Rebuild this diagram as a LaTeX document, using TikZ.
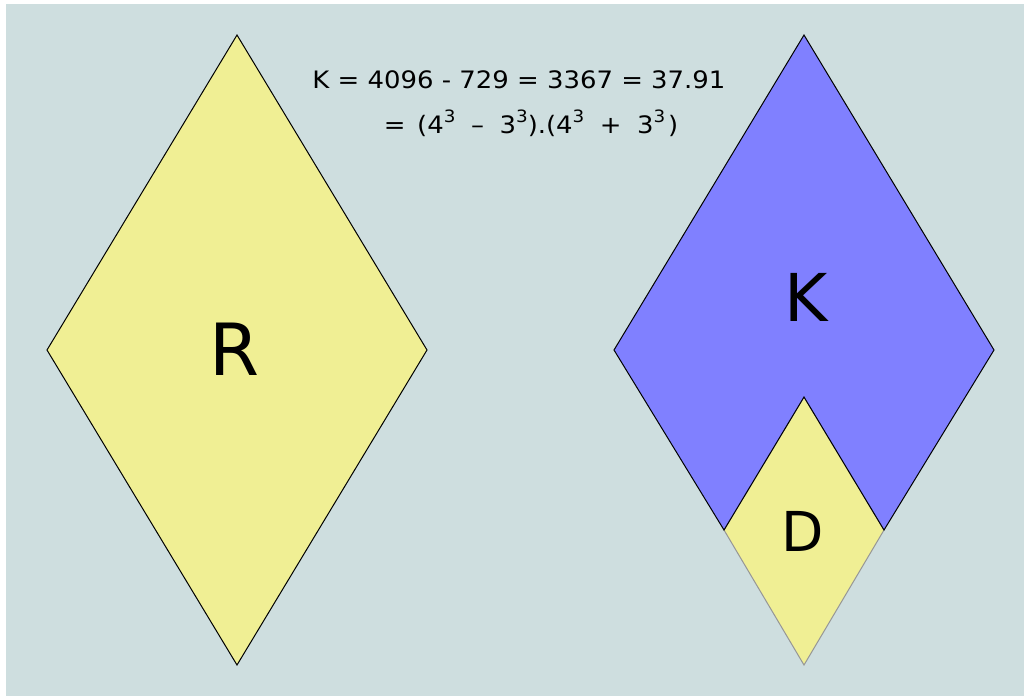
\documentclass[tikz,border=0pt]{standalone}
\usepackage{fontspec}
\setmainfont{DejaVu Sans}
\definecolor{bgc}{RGB}{206,222,223}
\definecolor{yel}{RGB}{240,239,148}
\definecolor{blu}{RGB}{128,128,255}
\definecolor{edgegray}{RGB}{150,150,150}
\tikzset{
  yelshape/.style={fill=yel, draw=black, line width=1pt, line join=miter},
  blushape/.style={fill=blu, draw=black, line width=1pt, line join=miter},
  dshape/.style={fill=yel, draw=edgegray, line width=1pt},
  biglabel/.style={inner sep=0pt, anchor=center},
  formula/.style={inner sep=0pt, anchor=base, font=\fontsize{24}{28}\selectfont}
}
\newcommand{\sq}[1]{\raisebox{0.45em}{\fontsize{17}{20}\selectfont #1}}
\newcommand{\wsp}{\hspace{0.6em}}
\begin{document}
\begin{tikzpicture}[x=1pt,y=-1pt]
\useasboundingbox (0,0) rectangle (1025,697);
\fill[white] (0,0) rectangle (1025,697);
\fill[bgc] (6,4) rectangle (1024,696);
% left rhombus R
\coordinate (rt) at (237,35);
\coordinate (rl) at (47,350);
\coordinate (rr) at (427,350);
\coordinate (rb) at (237,665);
\draw[yelshape] (rt) -- (rr) -- (rb) -- (rl) -- cycle;
% right rhombus
\coordinate (kt) at (804,35);
\coordinate (kl) at (614,350);
\coordinate (kr) at (994,350);
\coordinate (kb) at (804,665);
\coordinate (dt) at (804,397);
\coordinate (dl) at (724,530);
\coordinate (dr) at (884,530);
\draw[dshape] (dt) -- (dr) -- (kb) -- (dl) -- cycle;
\draw[blushape] (kt) -- (kr) -- (dr) -- (dt) -- (dl) -- (kl) -- cycle;
% labels
\node[biglabel, font=\fontsize{72}{80}\selectfont] (R) at (235,349) {R};
\node[biglabel, font=\fontsize{66}{72}\selectfont] (K) at (806,297) {K};
\node[biglabel, font=\fontsize{55}{60}\selectfont] (D) at (803,531) {D};
\node[formula] (f1) at (519,88) {\scalebox{1.08}[1]{K = 4096 - 729 = 3367 = 37.91}};
\node[formula] (f2) at (531,133) {\scalebox{1.08}[1]{=\hspace{0.45em}(4\sq{3}\wsp–\wsp3\sq{3}).(4\sq{3}\wsp+\wsp3\sq{3}\hspace{0.1em})}};
\end{tikzpicture}
\end{document}
